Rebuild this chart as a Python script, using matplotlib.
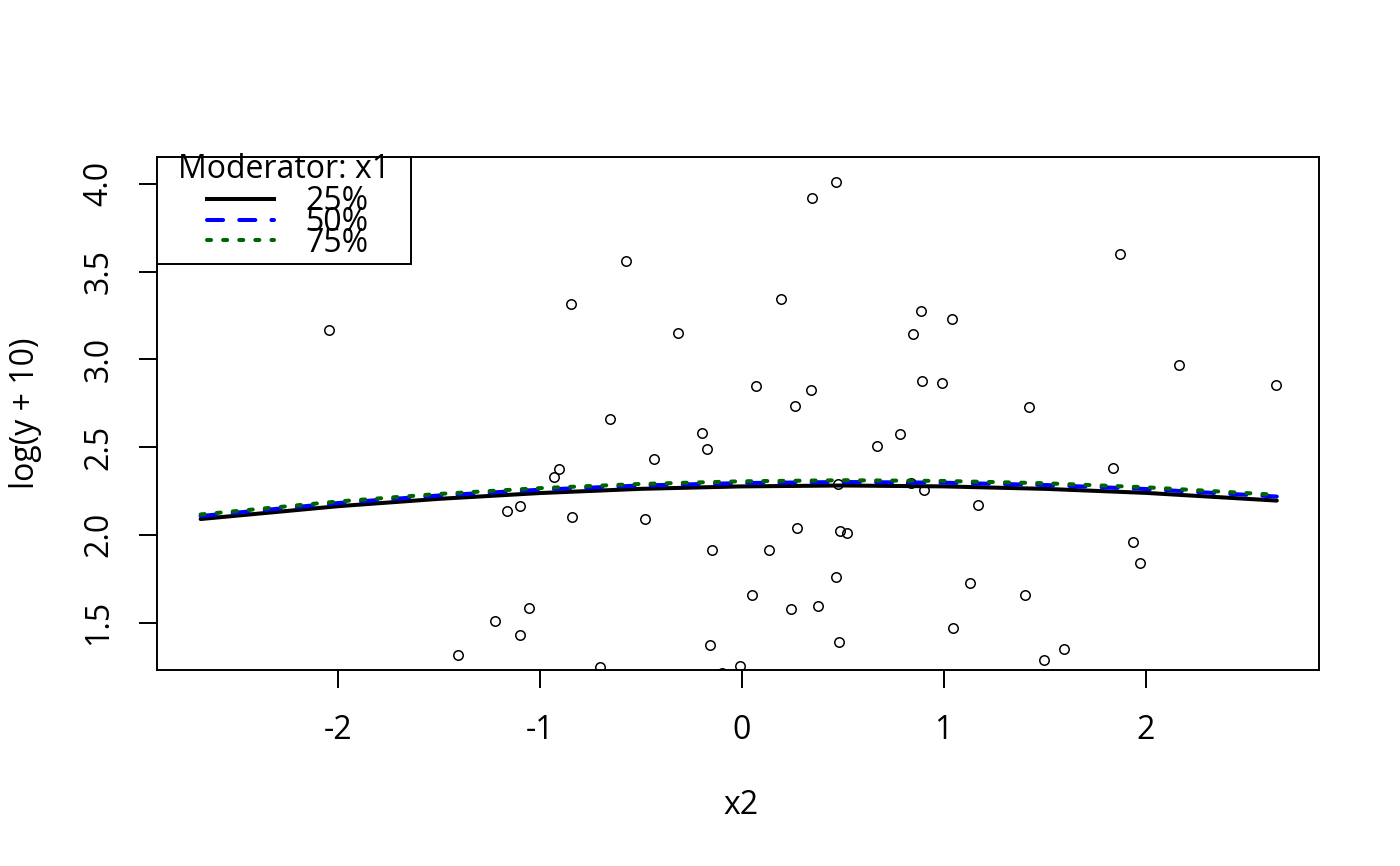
import matplotlib
matplotlib.use("Agg")
import matplotlib.pyplot as plt
from matplotlib.patches import Rectangle
from matplotlib.lines import Line2D

plt.rcParams['font.family'] = ['Open Sans', 'DejaVu Sans']
plt.rcParams['axes.unicode_minus'] = False

# observed points (x2, log(y + 10))
x2_pts = [-2.042, -0.845, -0.571, -0.314, -0.651, -0.196, -0.174, -0.435, -0.905, -0.931,
          -1.162, -1.096, -0.841, -0.481, -0.145, -1.054, -1.221, -1.096, -1.405, -0.156,
          -0.700, -0.009, -0.100,
          0.467, 0.349, 1.874, 0.196, 0.887, 1.041, 0.850, 2.164, 2.645, 0.073,
          0.341, 0.891, 0.991, 0.264, 1.421, 0.786, 0.669, 1.837, 0.477, 0.837,
          0.901, 1.168, 0.276, 0.486, 0.522, 0.136, 1.936, 1.973, 0.466, 1.129,
          0.050, 1.402, 0.246, 0.380, 1.048, 0.481, 1.598, 1.499]
y_pts = [3.168, 3.316, 3.563, 3.152, 2.661, 2.578, 2.488, 2.434, 2.374, 2.330,
         2.135, 2.166, 2.099, 2.089, 1.914, 1.582, 1.509, 1.428, 1.317, 1.370,
         1.248, 1.251, 1.210,
         4.010, 3.921, 3.601, 3.343, 3.278, 3.231, 3.143, 2.968, 2.854, 2.848,
         2.828, 2.879, 2.866, 2.736, 2.729, 2.577, 2.507, 2.380, 2.289, 2.293,
         2.256, 2.168, 2.041, 2.022, 2.008, 1.916, 1.960, 1.840, 1.762, 1.725,
         1.658, 1.658, 1.578, 1.592, 1.469, 1.390, 1.348, 1.284]

# predicted curves at moderator quantiles
x_line = [-2.68, -2.0, -1.5, -1.0, -0.5, 0.0, 0.5, 1.0, 1.5, 2.0, 2.65]
y_25 = [2.090, 2.163, 2.205, 2.238, 2.262, 2.276, 2.281, 2.276, 2.262, 2.239, 2.195]
y_50 = [2.107, 2.181, 2.224, 2.257, 2.281, 2.295, 2.301, 2.297, 2.284, 2.261, 2.218]
y_75 = [2.116, 2.190, 2.233, 2.266, 2.290, 2.305, 2.311, 2.307, 2.294, 2.271, 2.228]

labels = ['25%', '50%', '75%']
colors = ['black', 'blue', '#006400']

fig = plt.figure(figsize=(14, 8.66), dpi=100)
ax = fig.add_axes([0.11214, 0.22679, 0.83029, 0.59215])

ax.plot(x2_pts, y_pts, linestyle='', marker='o', ms=6.8, mfc='none', mec='black', mew=1.1)

lw = 2.9
ax.plot(x_line, y_25, color=colors[0], lw=lw, solid_capstyle='round')
ax.plot(x_line, y_50, color=colors[1], lw=lw, dashes=(4, 4), dash_capstyle='round')
ax.plot(x_line, y_75, color=colors[2], lw=lw, dashes=(1, 3), dash_capstyle='round')

ax.set_xlim(-2.896, 2.861)
ax.set_ylim(1.232, 4.154)
ax.set_xticks([-2, -1, 0, 1, 2])
ax.set_yticks([1.5, 2.0, 2.5, 3.0, 3.5, 4.0])
ax.set_yticklabels(['1.5', '2.0', '2.5', '3.0', '3.5', '4.0'])
for s in ax.spines.values():
    s.set_linewidth(1.4)
ax.tick_params(axis='both', length=13, width=1.4, labelsize=23)
ax.tick_params(axis='x', pad=19)
ax.tick_params(axis='y', pad=17, labelrotation=90)
for t in ax.get_yticklabels():
    t.set_va('center')

fig.text(741 / 1400, 1 - 805 / 866, 'x2', ha='center', va='center', fontsize=23)
fig.text(25 / 1400, 1 - 413 / 866, 'log(y + 10)', ha='center', va='center',
         rotation=90, fontsize=23)

# legend drawn the way R lays it out (entries overlap as in the original)
ax.add_patch(Rectangle((0, 0.791), 0.2184, 0.209, transform=ax.transAxes,
                       facecolor='white', edgecolor='black', lw=1.4, zorder=5))
ax.text(0.1092, 0.958, 'Moderator: x1', transform=ax.transAxes, ha='center',
        va='baseline', fontsize=23, zorder=6)
leg_y = [0.917, 0.876, 0.837]
txt_y = [0.896, 0.855, 0.814]
styles = [dict(), dict(dashes=(4, 4), dash_capstyle='round'), dict(dashes=(1, 3), dash_capstyle='round')]
for i in range(3):
    ax.add_line(Line2D([0.043, 0.1006], [leg_y[i], leg_y[i]], transform=ax.transAxes,
                       color=colors[i], lw=lw, zorder=6, **styles[i]))
    ax.text(0.128, txt_y[i], labels[i], transform=ax.transAxes, ha='left',
            va='baseline', fontsize=23, zorder=6)

fig.savefig('out.png', dpi=100)
